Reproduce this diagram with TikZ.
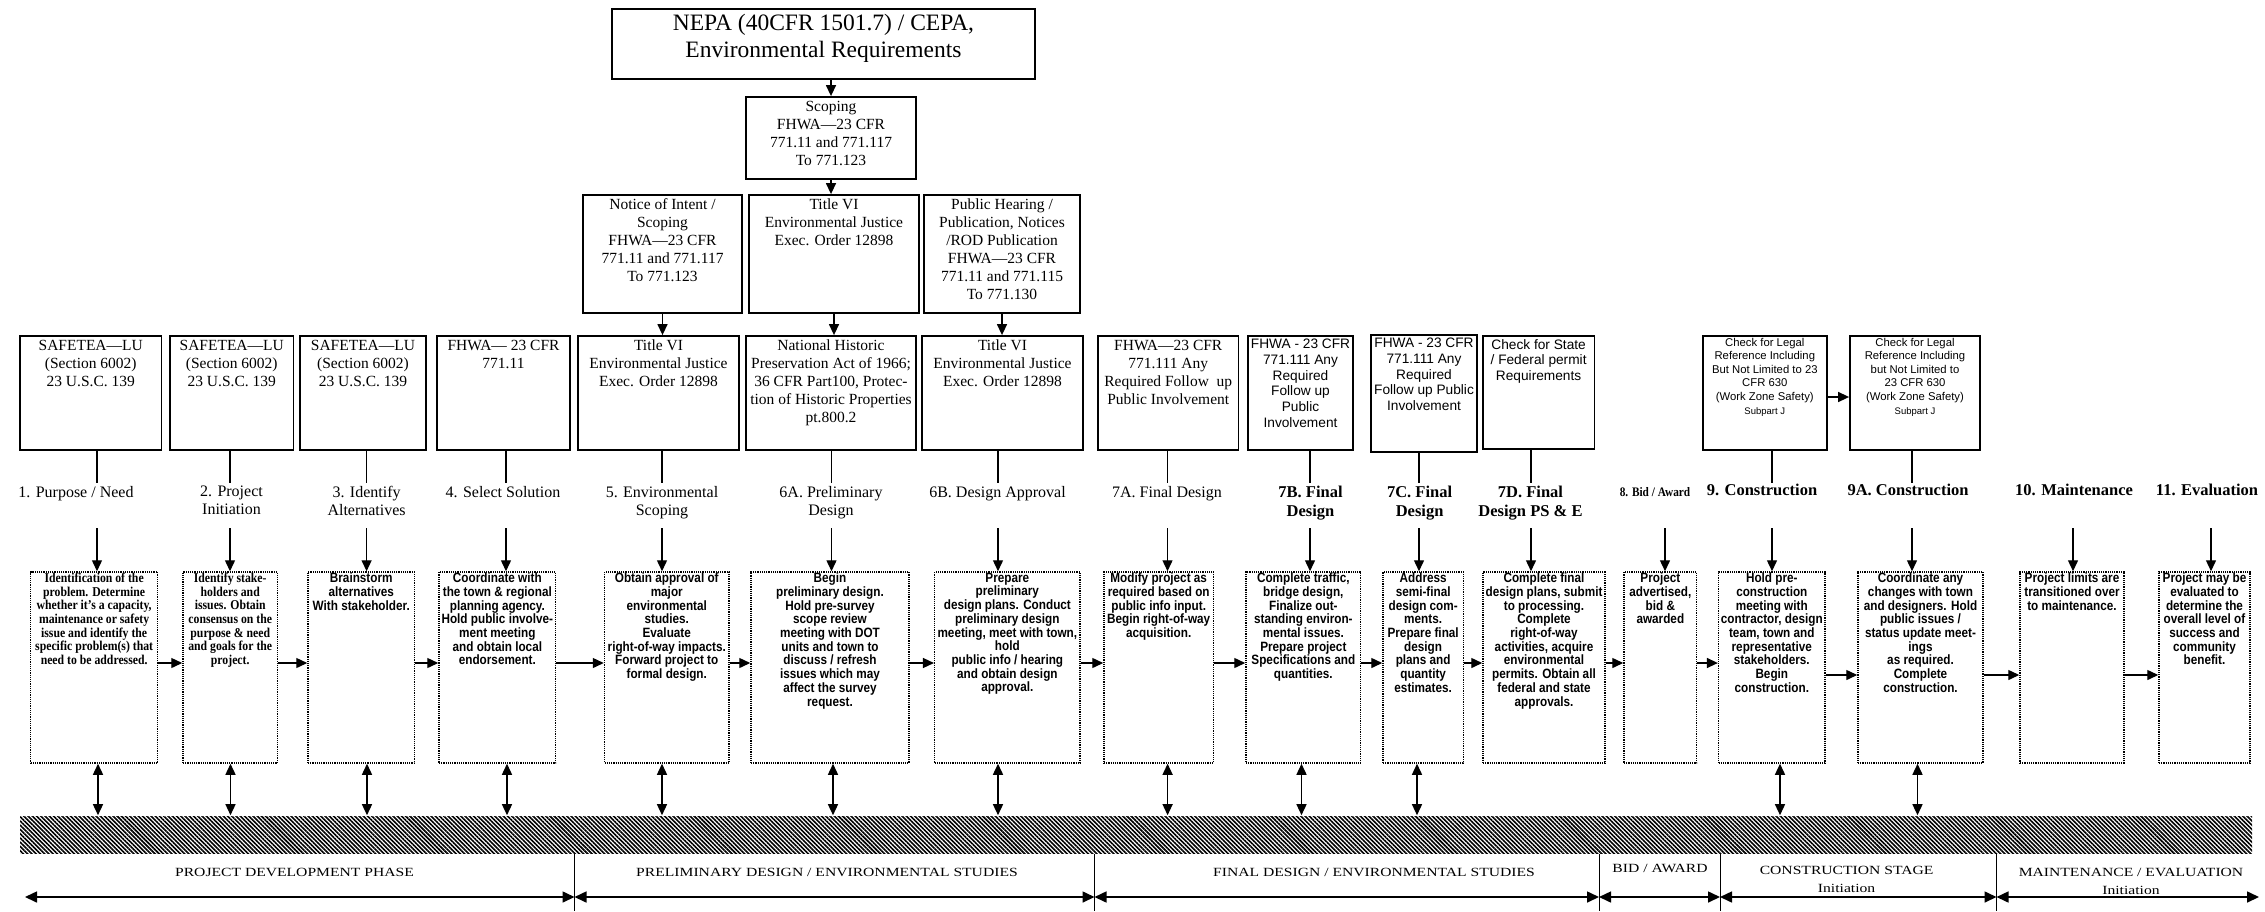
\documentclass[tikz,border=0pt]{standalone}
\usepackage{fontspec}
\setmainfont{Liberation Serif}
\setsansfont{Liberation Sans}
\newfontfamily\condsans[FakeStretch=0.87]{Liberation Sans}
\newfontfamily\condserif[FakeStretch=0.87]{Liberation Serif}
\newfontfamily\wideserif[FakeStretch=1.25]{Liberation Serif}
\usetikzlibrary{arrows.meta,patterns.meta}

% rectangle node from its corners: name, style, left, top, right, bottom
\newcommand\frbox[6]{%
  \node[#2, minimum width={#5-#3}, minimum height={#6-#4}] (#1) at ({(#3+#5)/2},{(#4+#6)/2}) {};}
% text hung from the top edge of a box: box name, drop, style, content
\newcommand\intext[4]{%
  \node[txt,#3] (#1t) at ([yshift=-#2pt]#1.north) {#4};}

\tikzset{
  solidbox/.style={draw, line width=1.8pt, inner sep=0pt},
  dotbox/.style={draw, line width=1.5pt, dash pattern=on 1.2pt off 1pt, inner sep=0pt},
  txt/.style={anchor=north, align=center, inner sep=0pt},
  titlef/.style={font=\fontsize{23.5}{27}\selectfont},
  boxf/.style={font=\fontsize{15.5}{18}\selectfont},
  sboxf/.style={font=\sffamily\fontsize{13.7}{15.7}\selectfont},
  tboxf/.style={font=\sffamily\fontsize{11.3}{13.6}\selectfont},
  dserf/.style={font=\condserif\bfseries\fontsize{13.5}{13.7}\selectfont},
  dsanf/.style={font=\condsans\bfseries\fontsize{13.5}{13.7}\selectfont},
  lab/.style={txt, font=\fontsize{16}{18}\selectfont},
  blab/.style={txt, font=\bfseries\fontsize{16.5}{18.5}\selectfont},
  slab/.style={txt, font=\condserif\bfseries\fontsize{13}{15}\selectfont},
  phase/.style={txt, font=\wideserif\fontsize{12.5}{18}\selectfont},
  lnk/.style={line width=1.4pt},
  arr/.style={line width=1.4pt, -{Triangle[length=11pt,width=10pt]}},
  darr/.style={line width=1.4pt, {Triangle[length=11pt,width=10pt]}-{Triangle[length=11pt,width=10pt]}},
  parr/.style={line width=1.6pt, {Triangle[length=12pt,width=11pt]}-{Triangle[length=12pt,width=11pt]}},
  sep/.style={line width=1pt},
}

\begin{document}
\begin{tikzpicture}[x=1pt,y=-1pt]
\useasboundingbox (0,0) rectangle (2265,911);

% ---------- requirement chain at the top ----------
\frbox{nepa}{solidbox}{612}{9}{1035}{79}
\intext{nepa}{6}{titlef}{NEPA (40CFR 1501.7) / CEPA,\\Environmental Requirements}
\frbox{scop}{solidbox}{746}{97}{916}{179}
\intext{scop}{5}{boxf}{Scoping\\FHWA—23 CFR\\771.11 and 771.117\\To 771.123}

\frbox{r2a}{solidbox}{583}{195}{742}{313}
\intext{r2a}{4}{boxf}{Notice of Intent /\\Scoping\\FHWA—23 CFR\\771.11 and 771.117\\To 771.123}
\frbox{r2b}{solidbox}{749}{195}{919}{313}
\intext{r2b}{4}{boxf}{Title VI\\Environmental Justice\\Exec. Order 12898}
\frbox{r2c}{solidbox}{924}{195}{1080}{313}
\intext{r2c}{4}{boxf}{Public Hearing /\\Publication, Notices\\/ROD Publication\\FHWA—23 CFR\\771.11 and 771.115\\To 771.130}

\draw[arr] (nepa.south -| scop.north) -- (scop.north);
\draw[arr] (scop.south) -- (scop.south |- r2b.north);

% ---------- legal reference boxes ----------
\frbox{tb1}{solidbox}{20}{336}{161.5}{450}
\intext{tb1}{4.5}{boxf}{SAFETEA—LU\\(Section 6002)\\23 U.S.C. 139}
\frbox{tb2}{solidbox}{170}{336}{293.5}{450}
\intext{tb2}{4.5}{boxf}{SAFETEA—LU\\(Section 6002)\\23 U.S.C. 139}
\frbox{tb3}{solidbox}{300}{336}{426}{450}
\intext{tb3}{4.5}{boxf}{SAFETEA—LU\\(Section 6002)\\23 U.S.C. 139}
\frbox{tb4}{solidbox}{437}{336}{570}{450}
\intext{tb4}{4.5}{boxf}{FHWA— 23 CFR\\771.11}
\frbox{tb5}{solidbox}{578}{336}{739}{450}
\intext{tb5}{4.5}{boxf}{Title VI\\Environmental Justice\\Exec. Order 12898}
\frbox{tb6a}{solidbox}{746}{336}{916}{450}
\intext{tb6a}{4.5}{boxf}{National Historic\\Preservation Act of 1966;\\36 CFR Part100, Protec-\\tion of Historic Properties\\pt.800.2}
\frbox{tb6b}{solidbox}{922}{336}{1083}{450}
\intext{tb6b}{4.5}{boxf}{Title VI\\Environmental Justice\\Exec. Order 12898}
\frbox{tb7a}{solidbox}{1098}{336}{1238.5}{450}
\intext{tb7a}{4.5}{boxf}{FHWA—23 CFR\\771.111 Any\\Required Follow\ \ up\\Public Involvement}
\frbox{tb7b}{solidbox}{1247.7}{336}{1353.3}{450}
\intext{tb7b}{4}{sboxf}{FHWA - 23 CFR\\771.111 Any\\Required\\Follow up\\Public\\Involvement}
\frbox{tb7c}{solidbox}{1371}{335}{1477}{452}
\intext{tb7c}{4}{sboxf}{FHWA - 23 CFR\\771.111 Any\\Required\\Follow up Public\\Involvement}
\frbox{tb7d}{solidbox}{1482.7}{336}{1594.5}{449}
\intext{tb7d}{4}{sboxf}{Check for State\\/ Federal permit\\Requirements}
\frbox{tb9}{solidbox}{1703}{336}{1826.6}{450}
\intext{tb9}{2.6}{tboxf}{Check for Legal\\Reference Including\\But Not Limited to 23\\CFR 630\\(Work Zone Safety)\\{\fontsize{9.5}{13.6}\selectfont Subpart J}}
\frbox{tb9a}{solidbox}{1850}{336}{1980}{450}
\intext{tb9a}{2.6}{tboxf}{Check for Legal\\Reference Including\\but Not Limited to\\23 CFR 630\\(Work Zone Safety)\\{\fontsize{9.5}{13.6}\selectfont Subpart J}}

\draw[arr] (r2a.south) -- (r2a.south |- tb5.north);
\draw[arr] (r2b.south) -- (r2b.south |- tb6a.north);
\draw[arr] (r2c.south) -- (r2c.south |- tb6b.north);
\draw[arr] ([yshift=-4pt]tb9.east) -- ([yshift=-4pt]tb9a.west);

% ---------- step labels ----------
\node[lab]  (l1)  at (76,486)     {1. Purpose / Need};
\node[lab]  (l2)  at (231.5,486)  {2. Project\\Initiation};
\node[lab]  (l3)  at (366.6,486)  {3. Identify\\Alternatives};
\node[lab]  (l4)  at (503,486)    {4. Select Solution};
\node[lab]  (l5)  at (662,486)    {5. Environmental\\Scoping};
\node[lab]  (l6a) at (831,486)    {6A. Preliminary\\Design};
\node[lab]  (l6b) at (997.5,486)  {6B. Design Approval};
\node[lab]  (l7a) at (1167,486)   {7A. Final Design};
\node[blab] (l7b) at (1310.5,486) {7B. Final\\Design};
\node[blab] (l7c) at (1419.6,486) {7C. Final\\Design};
\node[blab] (l7d) at (1530.5,486) {7D. Final\\Design PS \& E};
\node[slab] (l8)  at (1655,487)   {8. Bid / Award};
\node[blab] (l9)  at (1762,484)   {9. Construction};
\node[blab] (l9a) at (1908,484)   {9A. Construction};
\node[blab] (l10) at (2074,484)   {10. Maintenance};
\node[blab] (l11) at (2207,484)   {11. Evaluation};

\foreach \n/\x in {1/97,2/230,3/366.6,4/506,5/662,6a/831.5,6b/998,7a/1167.5,7b/1310,7c/1419,7d/1531,8/1665,9/1772,9a/1912,10/2073,11/2211}{
  \coordinate (u\n) at (\x,483);
  \coordinate (v\n) at (\x,528);
}

% ---------- activity boxes ----------
\frbox{db1}{dotbox}{30.6}{572}{157.7}{763}
\intext{db1}{1.5}{dserf}{Identification of the\\problem. Determine\\whether it’s a capacity,\\maintenance or safety\\issue and identify the\\specific problem(s) that\\need to be addressed.}
\frbox{db2}{dotbox}{183}{572}{277.5}{763}
\intext{db2}{1.5}{dserf}{Identify stake-\\holders and\\issues. Obtain\\consensus on the\\purpose \& need\\and goals for the\\project.}
\frbox{db3}{dotbox}{308}{572}{414.5}{763}
\intext{db3}{1.5}{dsanf}{Brainstorm\\alternatives\\With stakeholder.}
\frbox{db4}{dotbox}{439}{572}{555.7}{763}
\intext{db4}{1.5}{dsanf}{Coordinate with\\the town \& regional\\planning agency.\\Hold public involve-\\ment meeting\\and obtain local\\endorsement.}
\frbox{db5}{dotbox}{604.5}{572}{729}{763}
\intext{db5}{1.5}{dsanf}{Obtain approval of\\major\\environmental\\studies.\\Evaluate\\right-of-way impacts.\\Forward project to\\formal design.}
\frbox{db6a}{dotbox}{751}{572}{909}{763}
\intext{db6a}{1.5}{dsanf}{Begin\\preliminary design.\\Hold pre-survey\\scope review\\meeting with DOT\\units and town to\\discuss / refresh\\issues which may\\affect the survey\\request.}
\frbox{db6b}{dotbox}{934.7}{572}{1080}{763}
\intext{db6b}{1.5}{dsanf}{Prepare\\preliminary\\design plans. Conduct\\preliminary design\\meeting, meet with town,\\hold\\public info / hearing\\and obtain design\\approval.}
\frbox{db7a}{dotbox}{1104}{572}{1213.4}{763}
\intext{db7a}{1.5}{dsanf}{Modify project as\\required based on\\public info input.\\Begin right-of-way\\acquisition.}
\frbox{db7b}{dotbox}{1246}{572}{1360.7}{763}
\intext{db7b}{1.5}{dsanf}{Complete traffic,\\bridge design,\\Finalize out-\\standing environ-\\mental issues.\\Prepare project\\Specifications and\\quantities.}
\frbox{db7c}{dotbox}{1383}{572}{1463.3}{763}
\intext{db7c}{1.5}{dsanf}{Address\\semi-final\\design com-\\ments.\\Prepare final\\design\\plans and\\quantity\\estimates.}
\frbox{db7d}{dotbox}{1483}{572}{1605}{763}
\intext{db7d}{1.5}{dsanf}{Complete final\\design plans, submit\\to processing.\\Complete\\right-of-way\\activities, acquire\\environmental\\permits. Obtain all\\federal and state\\approvals.}
\frbox{db8}{dotbox}{1624}{572}{1696.7}{763}
\intext{db8}{1.5}{dsanf}{Project\\advertised,\\bid \&\\awarded}
\frbox{db9}{dotbox}{1718.6}{572}{1825}{763}
\intext{db9}{1.5}{dsanf}{Hold pre-\\construction\\meeting with\\contractor, design\\team, town and\\representative\\stakeholders.\\Begin\\construction.}
\frbox{db9a}{dotbox}{1858}{572}{1983}{763}
\intext{db9a}{1.5}{dsanf}{Coordinate any\\changes with town\\and designers. Hold\\public issues /\\status update meet-\\ings\\as required.\\Complete\\construction.}
\frbox{db10}{dotbox}{2020}{572}{2124}{763}
\intext{db10}{1.5}{dsanf}{Project limits are\\transitioned over\\to maintenance.}
\frbox{db11}{dotbox}{2159}{572}{2250}{763}
\intext{db11}{1.5}{dsanf}{Project may be\\evaluated to\\determine the\\overall level of\\success and\\community\\benefit.}

% ---------- connectors between labels and boxes ----------
\foreach \n in {1,2,3,4,5,6a,6b,7a,7b,7c,7d,9,9a}
  \draw[lnk] (tb\n.south -| u\n) -- (u\n);
\foreach \n in {1,2,3,4,5,6a,6b,7a,7b,7c,7d,8,9,9a,10,11}
  \draw[arr] (v\n) -- (v\n |- db\n.north);
\foreach \a/\b in {1/2,2/3,3/4,4/5,5/6a,6a/6b,6b/7a,7a/7b,7b/7c,7c/7d,7d/8,8/9}
  \draw[arr] ([yshift=4.5pt]db\a.east) -- ([yshift=4.5pt]db\b.west);
\foreach \a/\b in {9/9a,9a/10,10/11}
  \draw[arr] ([yshift=-7.5pt]db\a.east) -- ([yshift=-7.5pt]db\b.west);

% ---------- hatched timeline band ----------
\node[minimum width=2232, minimum height=37, inner sep=0pt,
      pattern={Lines[angle=-45,distance=3pt,line width=1.6pt]}] (band) at (1136,834.5) {};

\foreach \n/\x in {1/98,2/230.5,3/367,4/507,5/662,6a/833,6b/998,7a/1167.6,7b/1301.5,7c/1417,9/1780,9a/1917.5}
  \draw[darr] (db\n.south -| \x,0) -- (band.north -| \x,0);

% ---------- phases ----------
\foreach \n/\x in {1/574.5,2/1094.5,3/1599,4/1720,5/1996.5}{
  \coordinate (s\n) at (\x,911);
  \coordinate (p\n) at (\x,897);
}
\coordinate (p0) at (25,897);
\coordinate (p6) at (2259,897);
\foreach \n in {1,...,5}
  \draw[sep] (band.south -| s\n) -- (s\n);
\draw[parr] (p0) -- (p1);
\draw[parr] (p1) -- (p2);
\draw[parr] (p2) -- (p3);
\draw[parr] (p3) -- (p4);
\draw[parr] (p4) -- (p5);
\draw[parr] (p5) -- (p6);

\node[phase] (ph1) at (294.5,868)  {PROJECT DEVELOPMENT PHASE};
\node[phase] (ph2) at (827,868)    {PRELIMINARY DESIGN / ENVIRONMENTAL STUDIES};
\node[phase] (ph3) at (1374,868)   {FINAL DESIGN / ENVIRONMENTAL STUDIES};
\node[phase] (ph4) at (1660,864)   {BID / AWARD};
\node[phase] (ph5) at (1846.6,866) {CONSTRUCTION STAGE\\Initiation};
\node[phase] (ph6) at (2131,868)   {MAINTENANCE / EVALUATION\\Initiation};
\end{tikzpicture}
\end{document}
